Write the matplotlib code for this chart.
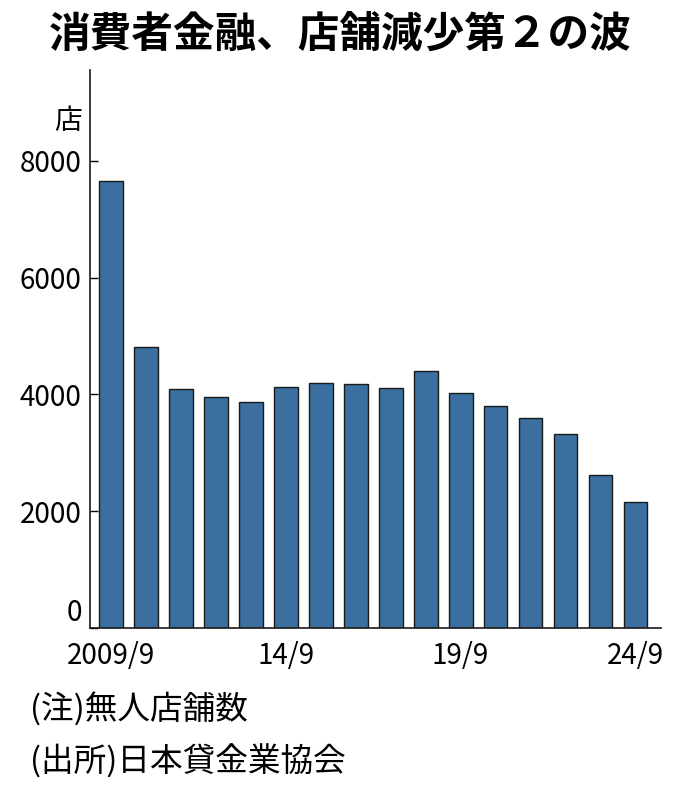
import matplotlib.pyplot as plt
import numpy as np

plt.rcParams['font.family'] = ['Noto Sans CJK JP', 'DejaVu Sans']

# 店舗数 (無人店舗), 2009/9 - 24/9
years = ['2009/9', '10/9', '11/9', '12/9', '13/9', '14/9', '15/9', '16/9',
         '17/9', '18/9', '19/9', '20/9', '21/9', '22/9', '23/9', '24/9']
stores = [7650, 4820, 4090, 3950, 3875, 4120, 4200, 4185,
          4105, 4395, 4020, 3800, 3600, 3315, 2625, 2165]
shown_labels = ['2009/9', '14/9', '19/9', '24/9']

title = '消費者金融、店舗減少第２の波'
unit = '店'
note = '(注)無人店舗数'
source = '(出所)日本貸金業協会'

bar_color = '#3a6f9f'

fig = plt.figure(figsize=(6.8, 7.88), dpi=100)
ax = fig.add_axes([0.1324, 0.2030, 0.9716 - 0.1324, 0.9112 - 0.2030])

x = np.arange(len(years))
ax.bar(x, stores, width=0.68, color=bar_color, edgecolor='#1a1a1a', linewidth=1.0)

ax.set_xlim(-0.595, 15.72)
ax.set_ylim(0, 9555)
ax.set_yticks([0, 2000, 4000, 6000, 8000])
ax.set_xticks([years.index(s) for s in shown_labels])
ax.set_xticklabels(shown_labels)

ax.tick_params(axis='y', direction='in', length=6, width=1, pad=6, labelsize=20)
ax.tick_params(axis='x', length=0, pad=9, labelsize=20)

# the 0 label sits on the baseline in the original
ax.get_yticklabels()[0].set_verticalalignment('bottom')

for side in ['top', 'right']:
    ax.spines[side].set_visible(False)
for side in ['left', 'bottom']:
    ax.spines[side].set_linewidth(1.2)
    ax.spines[side].set_color('#1a1a1a')

fig.text(82 / 680, 1 - 121 / 788, unit, ha='right', va='center', fontsize=20)
fig.text(0.5, 1 - 35 / 788, title, ha='center', va='center', fontsize=30, fontweight='bold')
fig.text(30 / 680, 1 - 710 / 788, note, ha='left', va='center', fontsize=23.5)
fig.text(30 / 680, 1 - 762 / 788, source, ha='left', va='center', fontsize=23.5)

fig.savefig('out.png', dpi=100)
